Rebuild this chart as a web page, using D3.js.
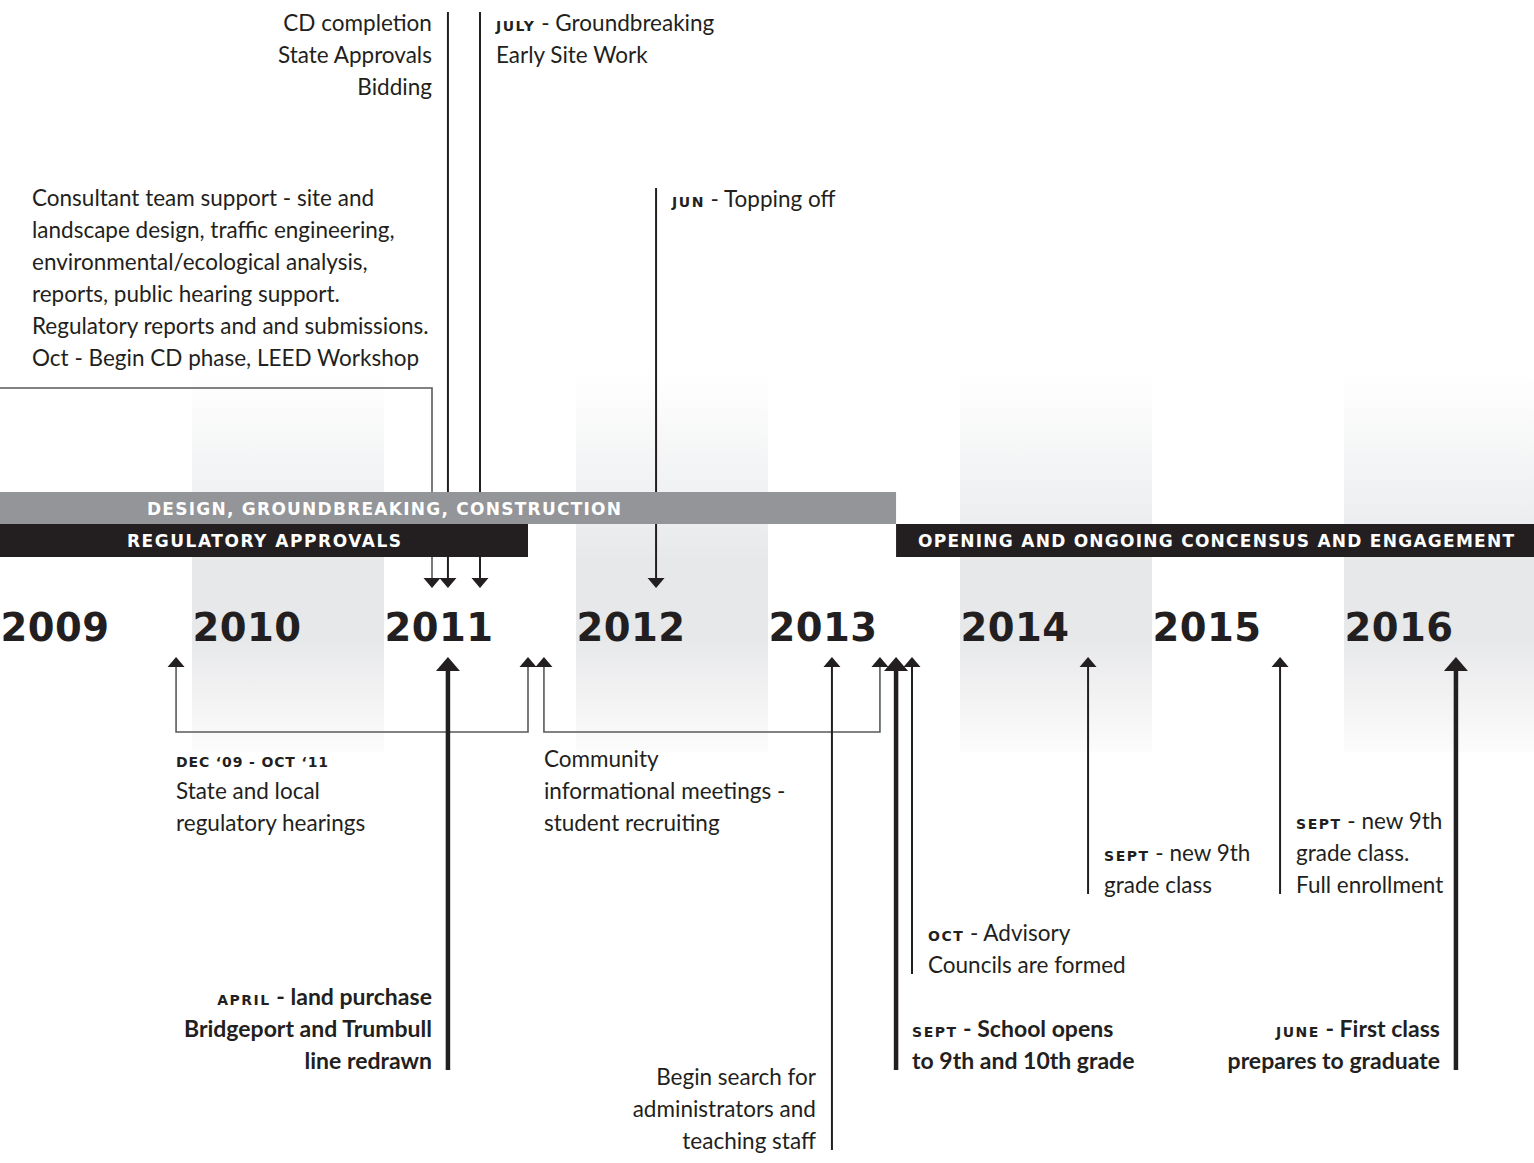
<!DOCTYPE html>
<html>
<head>
<meta charset="utf-8">
<script src="https://cdn.jsdelivr.net/npm/d3@7"></script>
<style>
  html, body { margin: 0; padding: 0; background: #fff; }
  svg { display: block; }
</style>
</head>
<body>
<svg id="chart" width="1534" height="1163"></svg>
<script>
// ---------------- DATA ----------------
const years = [2009, 2010, 2011, 2012, 2013, 2014, 2015, 2016];
const stripeYears = [2010, 2012, 2014, 2016];

const phaseNames = ["DESIGN, GROUNDBREAKING, CONSTRUCTION", "REGULATORY APPROVALS", "OPENING AND ONGOING CONCENSUS AND ENGAGEMENT"];
const phaseStart = [2008.333, 2009.0, 2013.667];
const phaseEnd   = [2013.667, 2011.75, 2017.0];

// events above the year row (arrows point down)
const topDates = [2011.25, 2011.333, 2011.5, 2012.417];
const topTags  = ["", "", "JULY", "JUN"];
const topTexts = [
  ["Consultant team support - site and", "landscape design, traffic engineering,", "environmental/ecological analysis,", "reports, public hearing support.", "Regulatory reports and and submissions.", "Oct - Begin CD phase, LEED Workshop"],
  ["CD completion", "State Approvals", "Bidding"],
  [" - Groundbreaking", "Early Site Work"],
  [" - Topping off"]
];

// spans below the year row (bracketed arrows)
const spanStarts = [2009.917, 2011.833];
const spanEnds   = [2011.75, 2013.583];
const spanTags   = ["DEC \u201809 - OCT \u201811", ""];
const spanTexts  = [
  ["State and local", "regulatory hearings"],
  ["Community", "informational meetings -", "student recruiting"]
];

// events below the year row (arrows point up)
const botDates = [2011.333, 2013.333, 2013.667, 2013.75, 2014.667, 2015.667, 2016.583];
const botTags  = ["APRIL", "", "SEPT", "OCT", "SEPT", "SEPT", "JUNE"];
const botTexts = [
  [" - land purchase", "Bridgeport and Trumbull", "line redrawn"],
  ["Begin search for", "administrators and", "teaching staff"],
  [" - School opens", "to 9th and 10th grade"],
  [" - Advisory", "Councils are formed"],
  [" - new 9th", "grade class"],
  [" - new 9th", "grade class.", "Full enrollment"],
  [" - First class", "prepares to graduate"]
];
const botMajor = [true, false, true, false, false, false, true];

// ---------------- LAYOUT ----------------
const x = d3.scaleLinear().domain([2009, 2017]).range([0, 1536]);
const svg = d3.select("#chart");
const INK = "#231f20", GREY = "#58595b", BAR_GREY = "#939598";
const BODY = "Lato, 'Open Sans', sans-serif";
const TAGF = "'DejaVu Sans', sans-serif";
const LH = 32;
const BODY_SIZE = 22.5, BOLD_SIZE = 23, TAG_SIZE = 14;

const topLayout = [
  {textX: 32, anchor: "start", base: 206, corner: 388},
  {side: "left", base: 31, lineTop: 12},
  {side: "right", base: 31, lineTop: 12},
  {side: "right", base: 207, lineTop: 188}
];
const botLayout = [
  {side: "left", base: 1005},
  {side: "left", base: 1085},
  {side: "right", base: 1037},
  {side: "right", base: 941},
  {side: "right", base: 861},
  {side: "right", base: 829},
  {side: "left", base: 1037}
];
const spanLayout = {bracketY: 732, base: 767, tagWidth: 152};
const TOP_TIP = 588, BOT_TIP = 657;

const defs = svg.append("defs");
const grad = defs.append("linearGradient").attr("id", "stripe")
  .attr("x1", 0).attr("y1", 0).attr("x2", 0).attr("y2", 1);
[[0, "#ffffff"], [0.3, "#f1f2f3"], [0.5, "#e7e8ea"], [0.7, "#e7e8ea"], [0.85, "#f2f2f3"], [1, "#fcfcfc"]]
  .forEach(([o, c]) => grad.append("stop").attr("offset", o).attr("stop-color", c));

// layers
const gStripe = svg.append("g");
const gLines = svg.append("g");
const gBars = svg.append("g");
const gYears = svg.append("g");
const gText = svg.append("g");

// stripes
gStripe.selectAll("rect").data(stripeYears).join("rect")
  .attr("x", d => x(d)).attr("width", d => x(d + 1) - x(d))
  .attr("y", 372).attr("height", 380).attr("fill", "url(#stripe)");

// phase bars
const barY = [492, 524];
const barRow = [0, 1, 1];
phaseNames.forEach((name, i) => {
  const x0 = x(phaseStart[i]), x1 = x(phaseEnd[i]);
  gBars.append("rect").attr("x", x0).attr("y", barY[barRow[i]]).attr("width", x1 - x0).attr("height", barRow[i] === 0 ? 32 : 33)
    .attr("fill", i === 0 ? BAR_GREY : INK);
});
const barLabelWidth = [474, 274, 596];
phaseNames.forEach((name, i) => {
  const cx = (x(phaseStart[i]) + x(phaseEnd[i])) / 2;
  gBars.append("text").attr("x", cx).attr("y", barY[barRow[i]] + 23)
    .attr("text-anchor", "middle").attr("fill", "#fff")
    .attr("font-family", TAGF).attr("font-weight", "bold").attr("font-size", 17)
    .attr("textLength", barLabelWidth[i]).attr("lengthAdjust", "spacing")
    .text(name);
});

// year labels
gYears.selectAll("text").data(years).join("text")
  .attr("x", d => x(d) + 0.5).attr("y", 641)
  .attr("font-family", TAGF).attr("font-weight", "bold").attr("font-size", 38.5)
  .attr("letter-spacing", 0.5)
  .attr("fill", INK).text(d => d);

// helpers
function arrowHead(g, cx, tipY, dir, major) {
  const w = major ? 24 : 17, h = major ? 14 : 10;
  const by = tipY - dir * h;
  g.append("path").attr("d", `M${cx},${tipY}L${cx - w / 2},${by}L${cx + w / 2},${by}Z`).attr("fill", INK);
}
function block(g, tx, base, anchor, tag, lines, bold) {
  const size = bold ? BOLD_SIZE : BODY_SIZE;
  lines.forEach((ln, k) => {
    const row = g.append("text").attr("text-anchor", anchor).attr("fill", INK)
      .attr("x", tx).attr("y", base + k * LH)
      .attr("font-family", BODY).attr("font-size", size).attr("font-weight", bold ? 700 : 400)
      .style("white-space", "pre");
    if (k === 0 && tag) {
      row.append("tspan").attr("font-family", TAGF).attr("font-weight", "bold").attr("font-size", TAG_SIZE)
        .attr("letter-spacing", 1.5).text(tag);
      row.append("tspan").text(ln);
    } else {
      row.text(ln);
    }
  });
}

// top events
topDates.forEach((d, i) => {
  const L = topLayout[i], cx = x(d);
  const by = TOP_TIP - 10;
  if (L.corner !== undefined) {
    gLines.append("path").attr("d", `M0,${L.corner}H${cx}V${by + 1}`)
      .attr("fill", "none").attr("stroke", GREY).attr("stroke-width", 1.6);
    block(gText, L.textX, L.base, L.anchor, topTags[i], topTexts[i], false);
  } else {
    gLines.append("line").attr("x1", cx).attr("x2", cx).attr("y1", L.lineTop).attr("y2", by + 1)
      .attr("stroke", INK).attr("stroke-width", 2);
    const tx = L.side === "left" ? cx - 16 : cx + 16;
    block(gText, tx, L.base, L.side === "left" ? "end" : "start", topTags[i], topTexts[i], false);
  }
  arrowHead(gLines, cx, TOP_TIP, 1, false);
});

// spans below
spanStarts.forEach((s, i) => {
  const xa = x(s), xb = x(spanEnds[i]);
  const by = BOT_TIP + 10;
  gLines.append("path").attr("d", `M${xa},${by - 1}V${spanLayout.bracketY}H${xb}V${by - 1}`)
    .attr("fill", "none").attr("stroke", GREY).attr("stroke-width", 1.6);
  arrowHead(gLines, xa, BOT_TIP, -1, false);
  arrowHead(gLines, xb, BOT_TIP, -1, false);
  if (spanTags[i]) {
    gText.append("text").attr("x", xa).attr("y", spanLayout.base).attr("fill", INK)
      .attr("font-family", TAGF).attr("font-weight", "bold").attr("font-size", TAG_SIZE)
      .attr("textLength", spanLayout.tagWidth).attr("lengthAdjust", "spacing")
      .text(spanTags[i]);
    block(gText, xa, spanLayout.base + LH, "start", "", spanTexts[i], false);
  } else {
    block(gText, xa, spanLayout.base, "start", "", spanTexts[i], false);
  }
});

// bottom events
botDates.forEach((d, i) => {
  const L = botLayout[i], cx = x(d), major = botMajor[i];
  const lastBase = L.base + (botTexts[i].length - 1) * LH;
  const by = BOT_TIP + (major ? 14 : 10);
  gLines.append("line").attr("x1", cx).attr("x2", cx).attr("y1", by - 1).attr("y2", lastBase + 1)
    .attr("stroke", INK).attr("stroke-width", major ? 4.5 : 2);
  arrowHead(gLines, cx, BOT_TIP, -1, major);
  const tx = L.side === "left" ? cx - 16 : cx + 16;
  block(gText, tx, L.base, L.side === "left" ? "end" : "start", botTags[i], botTexts[i], major);
});
</script>
</body>
</html>
